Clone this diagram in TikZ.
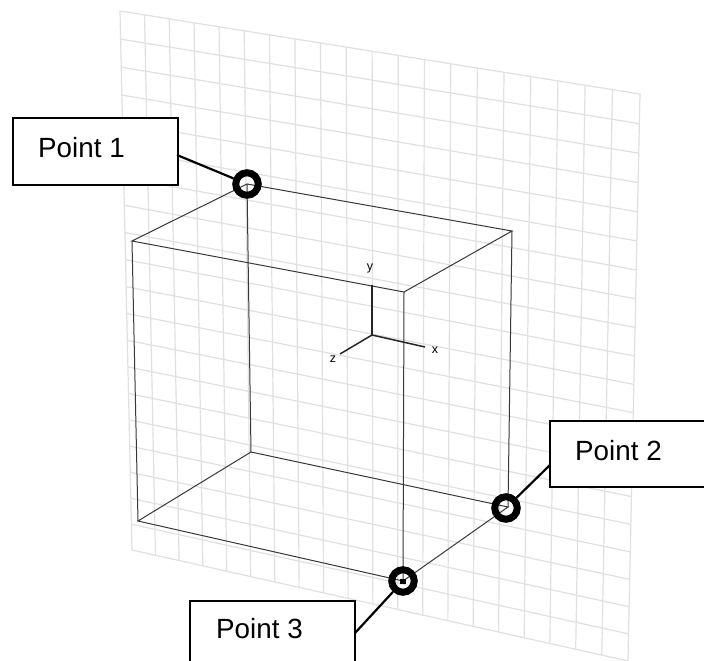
\documentclass[tikz,border=0pt]{standalone}
\usepackage{fontspec}
\setmainfont{Liberation Sans}
\tikzset{
  gridline/.style={draw=black!12,line width=1.2pt},
  edgeline/.style={draw=black!78,line width=1pt},
  axisline/.style={draw=black!85,line width=1.5pt},
  axislabel/.style={inner sep=0pt,font=\fontsize{12.5}{13}\selectfont},
  callout/.style={draw=black,fill=white,line width=2.2pt,minimum width=#1,inner sep=0pt},
  ptlabel/.style={anchor=base west,inner sep=0pt,font=\fontsize{27.8}{30}\selectfont},
  ring/.style={circle,draw=black,line width=7pt,minimum size=22.5pt,inner sep=0pt},
  leader/.style={draw=black,line width=2.2pt}
}
\begin{document}
\begin{tikzpicture}[x=1pt,y=-1pt]
\useasboundingbox (0,0) rectangle (704,661);
\clip (0,0) rectangle (704,661);
\fill[white] (0,0) rectangle (704,661);
% projective grid
\def\hx(#1,#2){(482.51*#1+18.2*#2+120)/(-0.05858*#1+0.04697*#2+1)}
\def\hy(#1,#2){(77.49*#1+564.83*#2+11)/(-0.05858*#1+0.04697*#2+1)}
\foreach \i in {0,...,20}{
  \pgfmathsetmacro{\t}{\i/20}
  \pgfmathsetmacro{\xa}{\hx(\t,0)}\pgfmathsetmacro{\ya}{\hy(\t,0)}
  \pgfmathsetmacro{\xb}{\hx(\t,1)}\pgfmathsetmacro{\yb}{\hy(\t,1)}
  \pgfmathsetmacro{\xc}{\hx(0,\t)}\pgfmathsetmacro{\yc}{\hy(0,\t)}
  \pgfmathsetmacro{\xd}{\hx(1,\t)}\pgfmathsetmacro{\yd}{\hy(1,\t)}
  \draw[gridline] (\xa,\ya) -- (\xb,\yb);
  \draw[gridline] (\xc,\yc) -- (\xd,\yd);
}
% box corners
\coordinate (tfl) at (132,241);
\coordinate (tbl) at (247,184);
\coordinate (tbr) at (512,231);
\coordinate (tfr) at (404,292);
\coordinate (bfl) at (138,521);
\coordinate (bbl) at (251,452);
\coordinate (bbr) at (508,507);
\coordinate (bfr) at (403,581);
\draw[edgeline] (tfl) -- (tbl) -- (tbr) -- (tfr) -- cycle;
\draw[edgeline] (bfl) -- (bbl) -- (bbr) -- (bfr) -- cycle;
\draw[edgeline] (tfl) -- (bfl);
\draw[edgeline] (tbl) -- (bbl);
\draw[edgeline] (tbr) -- (bbr);
\draw[edgeline] (tfr) -- (bfr);
% axes
\coordinate (org) at (372,335);
\coordinate (ay) at (372,285);
\coordinate (ax) at (425,347);
\coordinate (az) at (340,354);
\draw[axisline] (org) -- (ay);
\draw[axisline] (org) -- (ax);
\draw[axisline] (org) -- (az);
\node[axislabel] (ly) at (370,268) {y};
\node[axislabel] (lx) at (435,350) {x};
\node[axislabel] (lz) at (333,359) {z};
% rings
\node[ring] (p1) at (247,184) {};
\node[ring] (p2) at (506,508) {};
\node[ring] (p3) at (403,581) {};
\fill[black] (400,579) rectangle (406,584);
% callout boxes
\node[callout=165pt,minimum height=67pt] (box1) at (95.5,151.5) {};
\node[callout=170pt,minimum height=66pt] (box2) at (635,454) {};
\node[callout=165pt,minimum height=80pt] (box3) at (272.5,641) {};
\node[ptlabel] (t1) at (38,157) {Point 1};
\node[ptlabel] (t2) at (575,460) {Point 2};
\node[ptlabel] (t3) at (216,638) {Point 3};
% leaders
\coordinate (a1) at (177,155);
\coordinate (a2) at (550,465);
\coordinate (a3) at (355,633);
\draw[leader] (a1) -- (p1);
\draw[leader] (a2) -- (p2);
\draw[leader] (a3) -- (p3);
\end{tikzpicture}
\end{document}
